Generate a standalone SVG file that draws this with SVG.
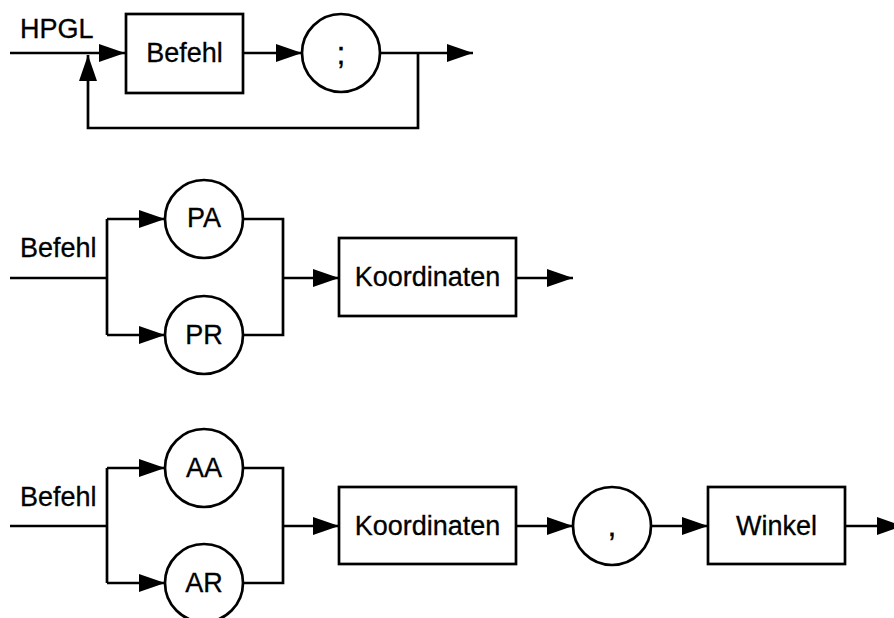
<svg xmlns="http://www.w3.org/2000/svg" width="894" height="618" viewBox="0 0 894 618">
<defs>
<marker id="arr" markerUnits="userSpaceOnUse" markerWidth="27" markerHeight="18" refX="26" refY="9" orient="auto" viewBox="0 0 27 18">
<path d="M0,0 L26,9 L0,18 z" fill="#000"/>
</marker>
</defs>
<style>
.box{fill:#fff;stroke:#000;stroke-width:2.7}
.ln{fill:none;stroke:#000;stroke-width:2.7}
.ar{fill:none;stroke:#000;stroke-width:2.7;marker-end:url(#arr)}
text{font-family:"Liberation Sans",Arial,sans-serif;font-size:27px;fill:#000;stroke:#000;stroke-width:0.3}
.c{text-anchor:middle}
.p{font-size:32px}
</style>
<rect width="894" height="618" fill="#fff"/>
<g id="connectors">
<path class="ar" d="M10,53 H125"/>
<path class="ar" d="M243,53 H302"/>
<path class="ar" d="M380,53 H473"/>
<path class="ar" d="M418,53 V128 H88 V55"/>
<path class="ln" d="M10,278 H107"/>
<path class="ln" d="M107,219 V335"/>
<path class="ar" d="M107,219 H165"/>
<path class="ar" d="M107,335 H165"/>
<path class="ln" d="M243,219 H283 V335 H243"/>
<path class="ar" d="M283,278 H339"/>
<path class="ar" d="M516,278 H573"/>
<path class="ln" d="M10,526 H107"/>
<path class="ln" d="M107,468 V583"/>
<path class="ar" d="M107,468 H165"/>
<path class="ar" d="M107,583 H165"/>
<path class="ln" d="M243,468 H283 V583 H243"/>
<path class="ar" d="M283,526 H339"/>
<path class="ar" d="M516,526 H573"/>
<path class="ar" d="M651,526 H708"/>
<path class="ar" d="M845,526 H903"/>
</g>
<g id="label-hpgl"><text x="20" y="38">HPGL</text></g>
<g id="befehl1"><rect class="box" x="126" y="14" width="117" height="79"/><text class="c" x="184.5" y="62">Befehl</text></g>
<g id="semicolon"><circle class="box" cx="341" cy="53" r="39"/><text class="c p" x="341" y="64">;</text></g>
<g id="label-befehl2"><text x="20" y="257">Befehl</text></g>
<g id="pa"><circle class="box" cx="204" cy="219" r="39"/><text class="c" x="204" y="227">PA</text></g>
<g id="pr"><circle class="box" cx="204" cy="335" r="39"/><text class="c" x="204" y="344">PR</text></g>
<g id="koord1"><rect class="box" x="339" y="238" width="177" height="78"/><text class="c" x="427.5" y="286">Koordinaten</text></g>
<g id="label-befehl3"><text x="20" y="506">Befehl</text></g>
<g id="aa"><circle class="box" cx="204" cy="468" r="39"/><text class="c" x="204" y="477">AA</text></g>
<g id="ar"><circle class="box" cx="204" cy="583" r="39"/><text class="c" x="204" y="592">AR</text></g>
<g id="koord2"><rect class="box" x="339" y="487" width="177" height="77"/><text class="c" x="427.5" y="535">Koordinaten</text></g>
<g id="comma"><circle class="box" cx="612" cy="526" r="39"/><text class="c p" x="612" y="536">,</text></g>
<g id="winkel"><rect class="box" x="708" y="487" width="137" height="77"/><text class="c" x="776.5" y="535">Winkel</text></g>
</svg>
